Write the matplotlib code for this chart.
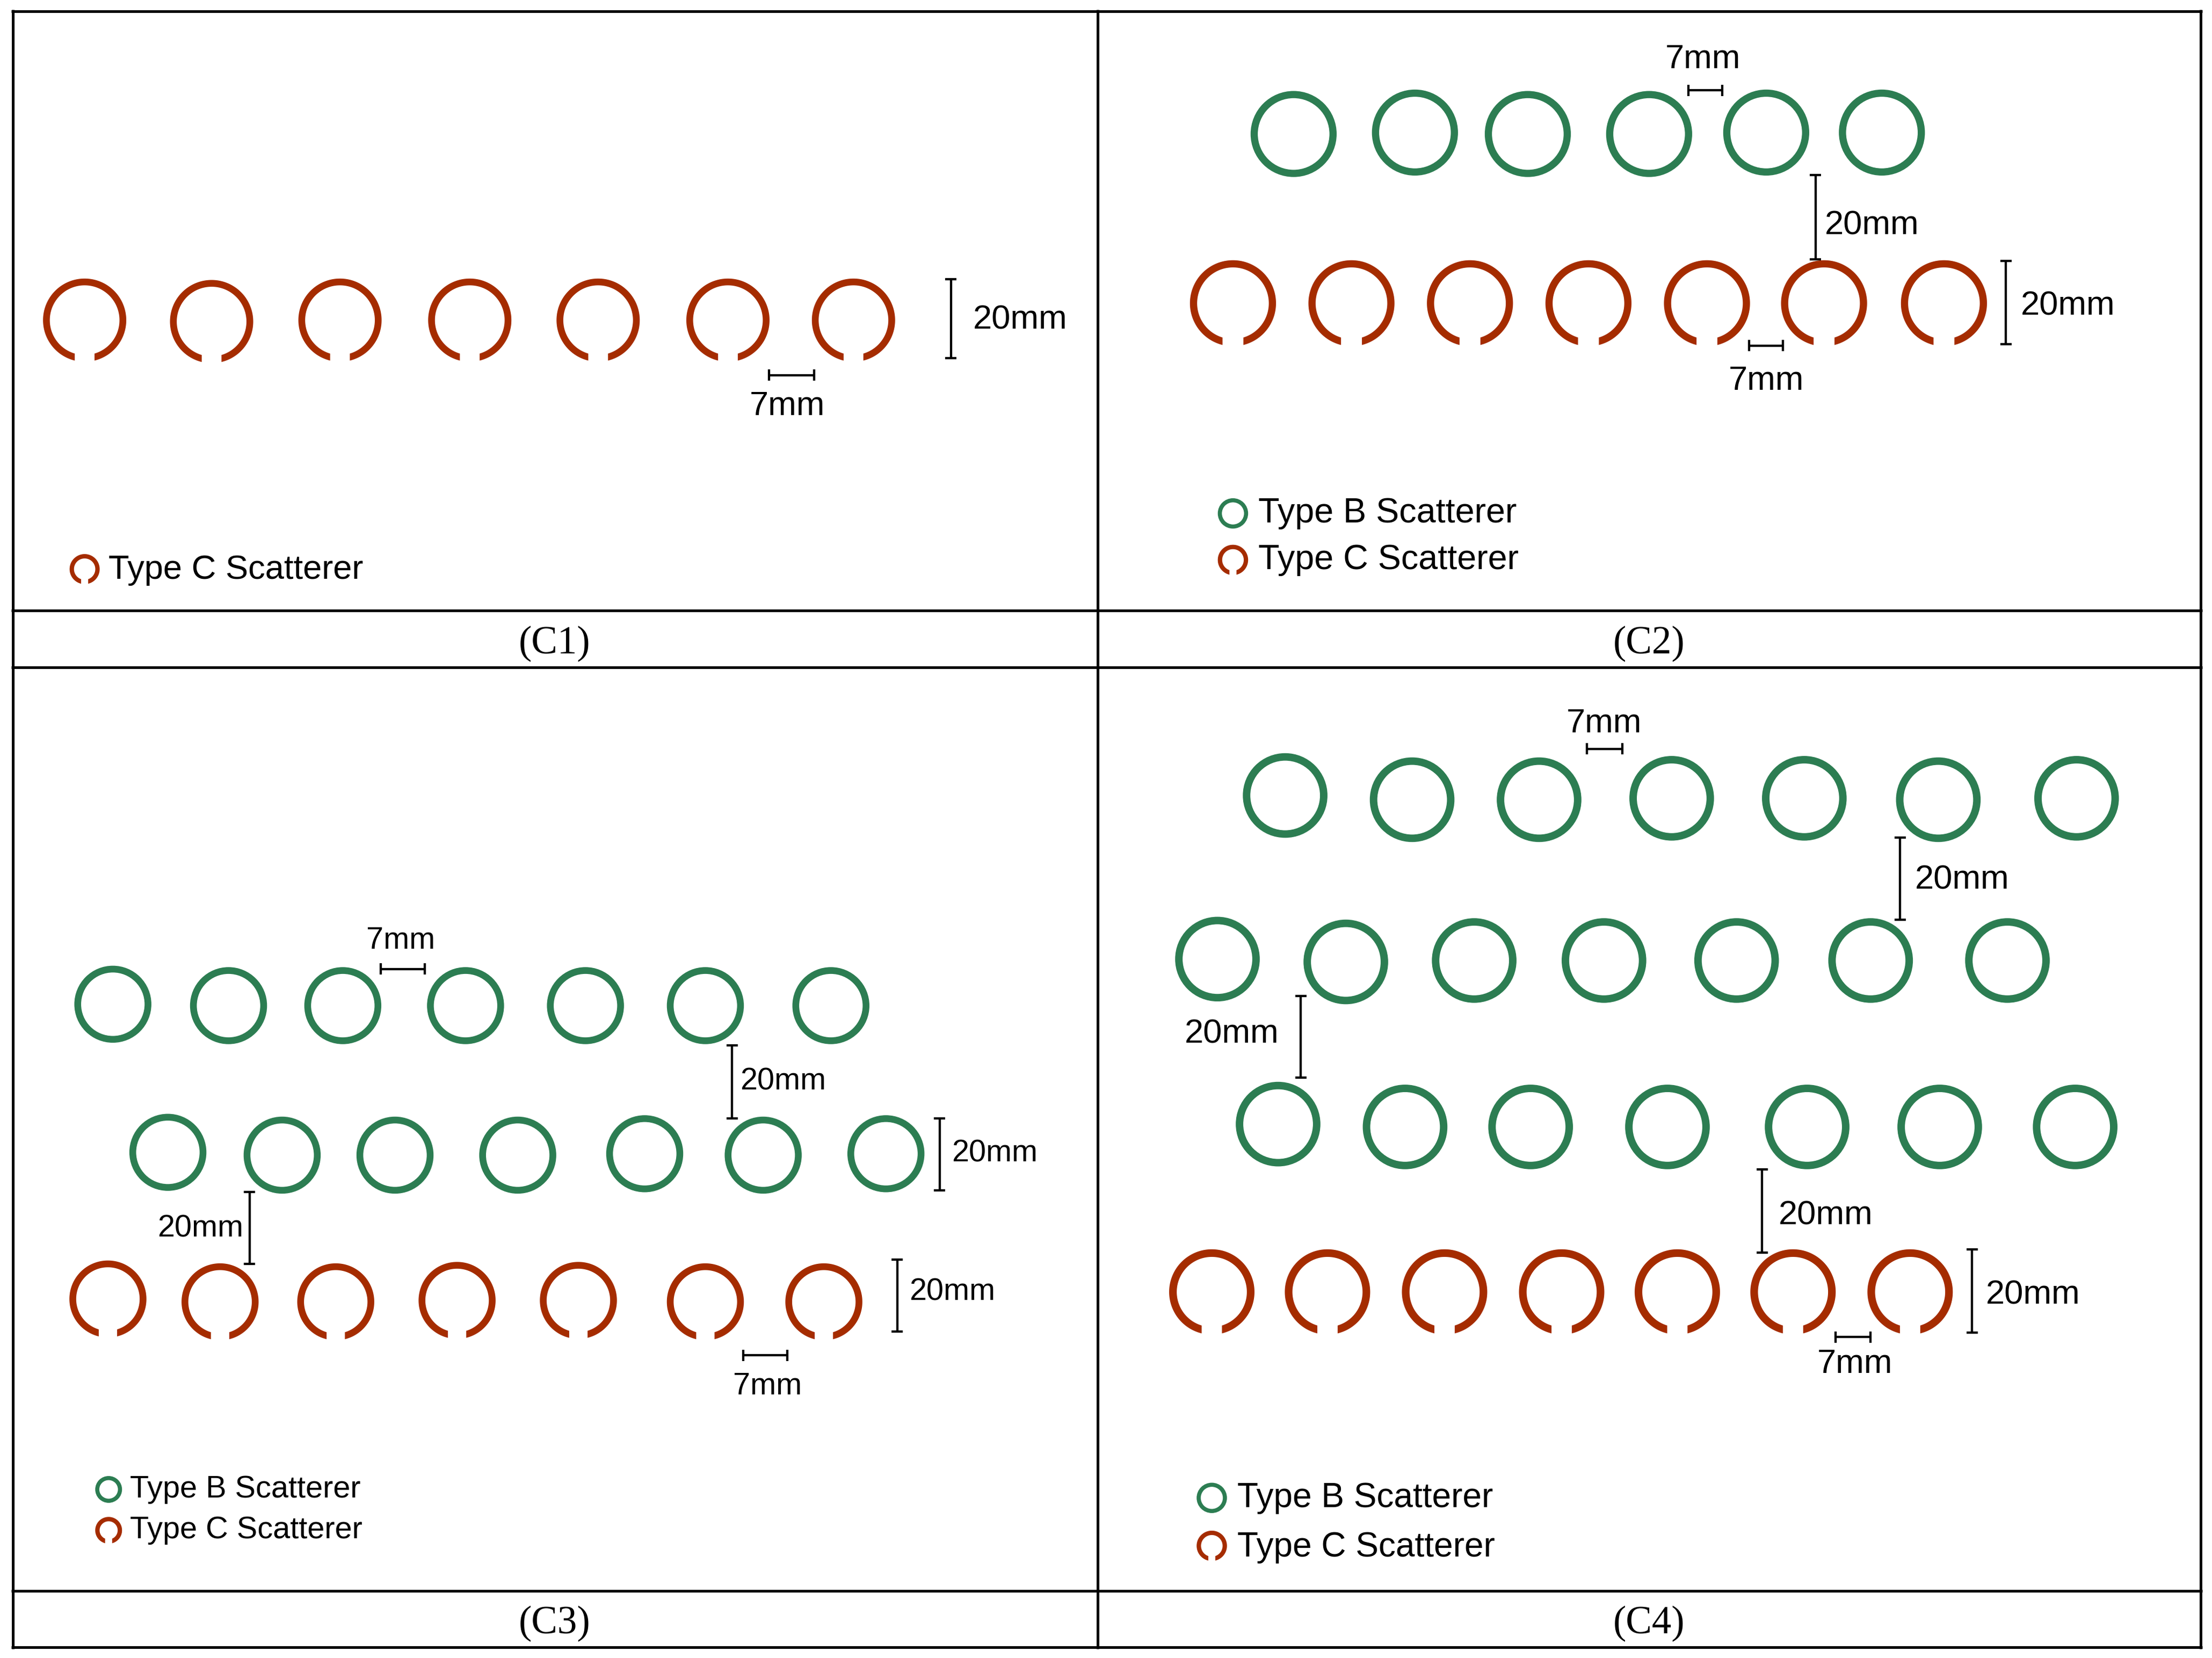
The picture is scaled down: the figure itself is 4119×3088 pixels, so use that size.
import numpy as np
import matplotlib
matplotlib.use("Agg")
import matplotlib.pyplot as plt
from matplotlib.patches import Circle

GREEN = "#2C7D52"
RED = "#A52C00"

# ring centres (reading units: 1568 wide picture)
c1_red_x = [60, 150, 241, 333, 424, 516, 605]
c1_red_y = [227, 228, 227, 227, 227, 227, 227]

c2_green_x = [917, 1003, 1083, 1169, 1252, 1334]
c2_green_y = [95, 94, 95, 95, 94, 94]
c2_red_x = [874, 958, 1042, 1126, 1210, 1293, 1378]
c2_red_y = [215, 215, 215, 215, 215, 215, 215]

c3_green1_x = [80, 162, 243, 330, 415, 500, 589]
c3_green1_y = [712, 713, 713, 713, 713, 713, 713]
c3_green2_x = [119, 200, 280, 367, 457, 541, 628]
c3_green2_y = [817, 819, 819, 819, 818, 819, 818]
c3_red_x = [76.5, 156, 238, 324, 410, 500, 584]
c3_red_y = [921, 923, 923, 922, 922, 923, 923]

c4_green1_x = [911, 1001, 1091, 1185, 1279, 1374, 1472]
c4_green1_y = [564, 567, 567, 566, 566, 567, 566]
c4_green2_x = [863, 954, 1045, 1137, 1231, 1326, 1423]
c4_green2_y = [680, 682, 681, 681, 681, 681, 681]
c4_green3_x = [906, 996, 1085, 1182, 1281, 1375, 1471]
c4_green3_y = [797, 799, 799, 799, 799, 799, 799]
c4_red_x = [859, 941, 1024, 1107, 1189, 1271, 1354]
c4_red_y = [916, 916, 916, 916, 916, 916, 916]

# (fixed coordinate, start, end, label, label x, label y, font size)
vertical_bars = [
    (674, 198, 254, "20mm", 723, 227, 45.5),
    (1287, 124, 184, "20mm", 1327, 160, 45.5),
    (1422, 185, 244, "20mm", 1466, 217, 45.5),
    (519, 741, 793, "20mm", 555, 767, 41.5),
    (666, 793, 844, "20mm", 705, 818, 41.5),
    (177, 845, 896, "20mm", 142, 871, 41.5),
    (636, 893, 944, "20mm", 675, 916, 41.5),
    (1347, 594, 652, "20mm", 1391, 624, 45.5),
    (922, 706, 764, "20mm", 873, 733, 45.5),
    (1249, 829, 888, "20mm", 1294, 862, 45.5),
    (1398, 886, 945, "20mm", 1441, 918, 45.5),
]
horizontal_bars = [
    (266, 545, 577, "7mm", 558, 288, 45.5),
    (64, 1197, 1221, "7mm", 1207, 42, 45.5),
    (245, 1240, 1264, "7mm", 1252, 270, 45.5),
    (687, 270, 301, "7mm", 284, 667, 41.5),
    (961, 527, 558, "7mm", 544, 983, 41.5),
    (531, 1125, 1150, "7mm", 1137, 513, 45.5),
    (948, 1301, 1326, "7mm", 1315, 967, 45.5),
]
# (ring x, ring y, label x, label y, label, colour key, font size, diameter)
legend_entries = [
    (60, 403.5, 77, 404, "Type C Scatterer", "C", 45.5, 21.3),
    (874, 364, 892, 364, "Type B Scatterer", "B", 46.5, 21.5),
    (874, 397, 892, 397, "Type C Scatterer", "C", 46.5, 21.5),
    (77, 1056, 92, 1056, "Type B Scatterer", "B", 41.5, 19),
    (77, 1085, 92, 1085, "Type C Scatterer", "C", 41.5, 19),
    (859, 1062, 877, 1062, "Type B Scatterer", "B", 46, 21.5),
    (859, 1096, 877, 1097, "Type C Scatterer", "C", 46, 21.5),
]
caption_labels = ["(C1)", "(C2)", "(C3)", "(C4)"]
caption_x = [393, 1169, 393, 1169]
caption_y = [456.5, 456.5, 1151.5, 1151.5]
grid_h = [8, 433, 473, 1128, 1168]
grid_v = [9, 778, 1560]

fig = plt.figure(figsize=(41.19, 30.88), dpi=100)
ax = fig.add_axes([0, 0, 1, 1])
SCALE = 4119 / 1568
ax.set_xlim(0, 1568)
ax.set_ylim(3088 / SCALE, 0)
ax.axis("off")

LW = 3.6


def open_ring(cx, cy, d, lw_px, gap):
    """Split ring with a vertical-sided slot at the bottom."""
    ro = d / 2
    ri = ro - lw_px
    ao = np.arcsin(gap / 2 / ro)
    ai = np.arcsin(gap / 2 / ri)
    t_o = np.linspace(np.pi / 2 + ao, 2.5 * np.pi - ao, 200)
    t_i = np.linspace(2.5 * np.pi - ai, np.pi / 2 + ai, 200)
    xs = np.r_[cx + ro * np.cos(t_o), cx + ri * np.cos(t_i)]
    ys = np.r_[cy + ro * np.sin(t_o), cy + ri * np.sin(t_i)]
    ax.fill(xs, ys, color=RED, lw=0, zorder=3)


def closed_ring(cx, cy, d, lw_px):
    ax.add_patch(Circle((cx, cy), d / 2 - lw_px / 2, fill=False,
                        ec=GREEN, lw=lw_px * SCALE * 0.72, zorder=3))


for x, y in zip(c1_red_x, c1_red_y):
    open_ring(x, y, 59, 4.8, 14)
for x, y in zip(c2_green_x, c2_green_y):
    closed_ring(x, y, 61, 5.1)
for x, y in zip(c2_red_x, c2_red_y):
    open_ring(x, y, 61, 5.1, 14.8)
for xs, ys in [(c3_green1_x, c3_green1_y), (c3_green2_x, c3_green2_y)]:
    for x, y in zip(xs, ys):
        closed_ring(x, y, 54.6, 4.8)
for x, y in zip(c3_red_x, c3_red_y):
    open_ring(x, y, 54.6, 4.8, 13)
for xs, ys in [(c4_green1_x, c4_green1_y), (c4_green2_x, c4_green2_y),
               (c4_green3_x, c4_green3_y)]:
    for x, y in zip(xs, ys):
        closed_ring(x, y, 60, 5.3)
for x, y in zip(c4_red_x, c4_red_y):
    open_ring(x, y, 60.5, 5.4, 14.4)

SANS = "Liberation Sans"
CAP = 4
BAR_LW = 3.1

for x, y0, y1, lab, lx, ly, fs in vertical_bars:
    ax.plot([x, x], [y0, y1], color="black", lw=BAR_LW, solid_capstyle="butt")
    ax.plot([x - CAP, x + CAP], [y0, y0], color="black", lw=BAR_LW, solid_capstyle="butt")
    ax.plot([x - CAP, x + CAP], [y1, y1], color="black", lw=BAR_LW, solid_capstyle="butt")
    ax.text(lx, ly, lab, family=SANS, fontsize=fs, ha="center", va="center", color="black")
for y, x0, x1, lab, lx, ly, fs in horizontal_bars:
    ax.plot([x0, x1], [y, y], color="black", lw=BAR_LW, solid_capstyle="butt")
    ax.plot([x0, x0], [y - CAP, y + CAP], color="black", lw=BAR_LW, solid_capstyle="butt")
    ax.plot([x1, x1], [y - CAP, y + CAP], color="black", lw=BAR_LW, solid_capstyle="butt")
    ax.text(lx, ly, lab, family=SANS, fontsize=fs, ha="center", va="center", color="black")

for rx, ry, tx, ty, lab, kind, fs, d in legend_entries:
    if kind == "B":
        closed_ring(rx, ry, d, 2.9)
    else:
        open_ring(rx, ry, d, 3.1, 5)
    ax.text(tx, ty, lab, family=SANS, fontsize=fs, ha="left", va="center", color="black")

for lab, x, y in zip(caption_labels, caption_x, caption_y):
    ax.text(x, y, lab, family="Liberation Serif", fontsize=52.5, ha="center", va="center", color="black")

for y in grid_h:
    ax.plot([grid_v[0] - 1, grid_v[-1] + 1], [y, y], color="black", lw=LW, solid_capstyle="butt")
for x in grid_v:
    ax.plot([x, x], [grid_h[0] - 1, grid_h[-1] + 1], color="black", lw=LW, solid_capstyle="butt")

fig.savefig("out.png", dpi=100, facecolor="white")
